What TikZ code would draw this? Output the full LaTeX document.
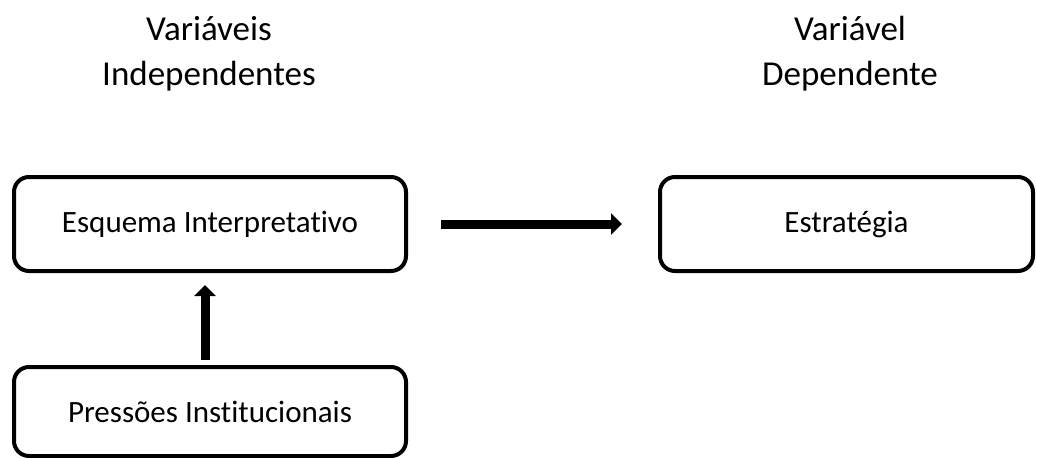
\documentclass[tikz,border=0pt]{standalone}
\usepackage{fontspec}
\setmainfont{Carlito}[Ligatures=NoCommon]
\usetikzlibrary{arrows.meta}
\begin{document}
\begin{tikzpicture}[x=1pt,y=-1pt,
  varbox/.style={draw, line width=4pt, rounded corners=15pt, inner sep=0pt, outer sep=0pt,
    font=\fontsize{31}{37}\selectfont},
  heading/.style={align=center, inner sep=0pt, font=\fontsize{35}{45}\selectfont},
  fatarrow/.style={line width=9pt, -{Triangle[length=11pt,width=21pt]}}]
  \useasboundingbox (0,0) rectangle (1037,458);

  % column headings
  \node[heading] (hInd) at (209,54) {Variáveis\\Independentes};
  \node[heading] (hDep) at (850,54) {Variável\\Dependente};

  % variable boxes
  \node[varbox, minimum width=392pt, minimum height=94pt] (esq) at (210,224) {Esquema Interpretativo};
  \node[varbox, minimum width=373pt, minimum height=94pt] (est) at (846.5,224) {Estratégia};
  \node[varbox, minimum width=392pt, minimum height=89pt] (pres) at (210,411.5) {Pressões Institucionais};

  % relations
  \draw[fatarrow, shorten <=35pt, shorten >=38pt] (esq.east) -- (est.west);
  \draw[fatarrow, shorten <=7pt, shorten >=14pt] ([xshift=-5pt]pres.north) -- ([xshift=-5pt]esq.south);
\end{tikzpicture}
\end{document}
